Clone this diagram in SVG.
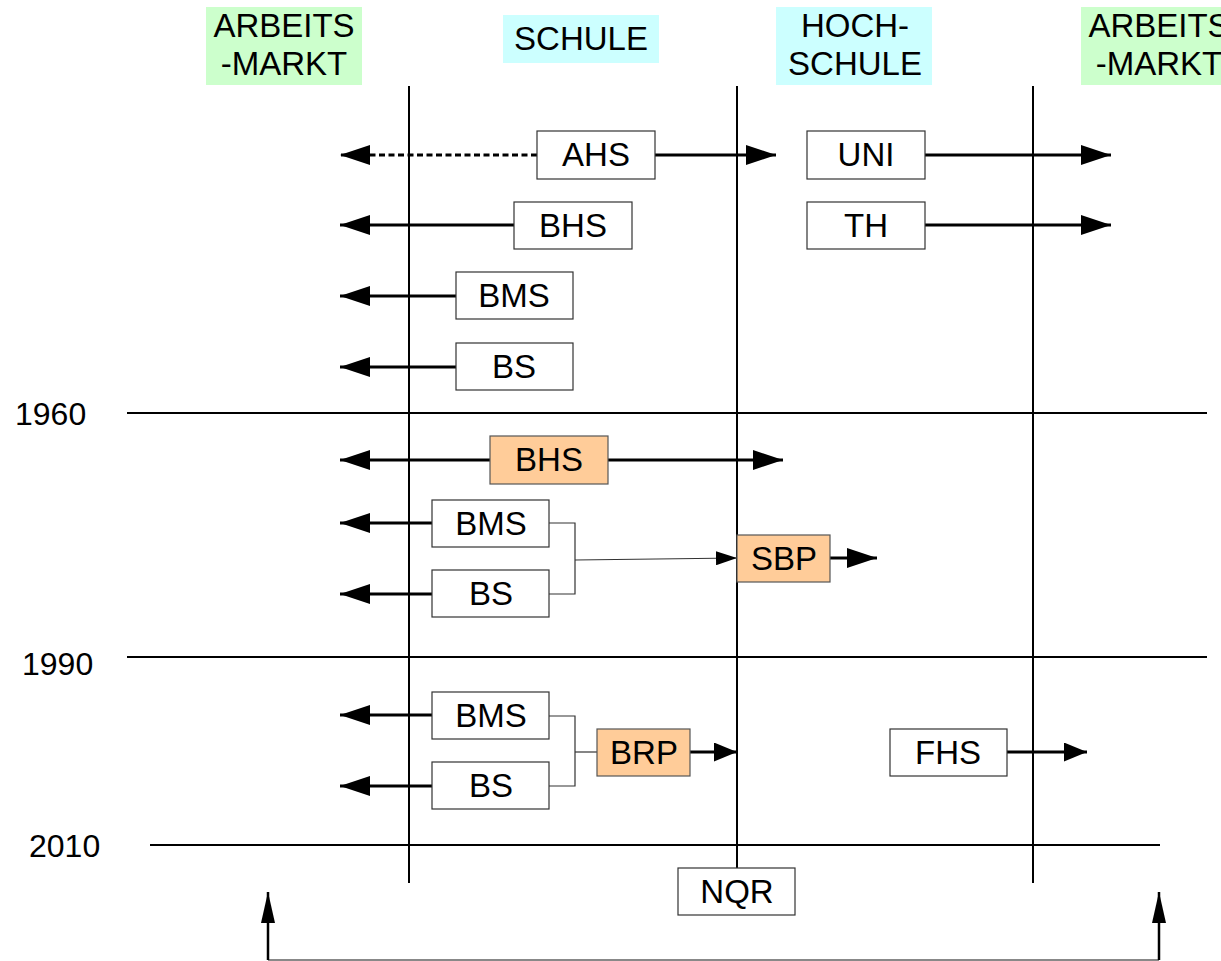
<svg xmlns="http://www.w3.org/2000/svg" width="1221" height="961" viewBox="0 0 1221 961">
<defs>
<style>
text{font-family:"Liberation Sans",Arial,sans-serif;font-size:33px;fill:#000;text-anchor:middle}
.yr{text-anchor:start;font-size:32px}
.box{fill:#fff;stroke:#333;stroke-width:1.2}
.org{fill:#ffcc99;stroke:#555;stroke-width:1.2}
.grn{fill:#ccffcc}
.cyn{fill:#ccffff}
.ax{stroke:#000;stroke-width:2;fill:none}
.arr{stroke:#000;stroke-width:3;fill:none}
.thin{stroke:#333;stroke-width:1.2;fill:none}
</style>
<marker id="ah" markerUnits="userSpaceOnUse" markerWidth="30" markerHeight="20" refX="30" refY="10" orient="auto"><path d="M0,0 L30,10 L0,20 z" fill="#000"/></marker>
<marker id="ahm" markerUnits="userSpaceOnUse" markerWidth="23" markerHeight="19" refX="23" refY="9.5" orient="auto"><path d="M0,0 L23,9.5 L0,19 z" fill="#000"/></marker>
<marker id="ahs" markerUnits="userSpaceOnUse" markerWidth="21" markerHeight="14" refX="21" refY="7" orient="auto"><path d="M0,0 L21,7 L0,14 z" fill="#000"/></marker>
<marker id="ahu" markerUnits="userSpaceOnUse" markerWidth="31" markerHeight="14" refX="31" refY="7" orient="auto"><path d="M0,0 L31,7 L0,14 z" fill="#000"/></marker>
</defs>

<g id="headers">
<g id="h-arbeitsmarkt-left"><rect class="grn" x="206" y="7" width="156" height="78"/><text x="284" y="37">ARBEITS</text><text x="284" y="75">-MARKT</text></g>
<g id="h-schule"><rect class="cyn" x="503" y="15" width="156" height="48"/><text x="581" y="50">SCHULE</text></g>
<g id="h-hochschule"><rect class="cyn" x="776" y="7" width="156" height="78"/><text x="855" y="37">HOCH-</text><text x="855" y="75">SCHULE</text></g>
<g id="h-arbeitsmarkt-right"><rect class="grn" x="1081" y="7" width="156" height="78"/><text x="1159" y="37">ARBEITS</text><text x="1159" y="75">-MARKT</text></g>
</g>

<g id="axes">
<line class="ax" x1="409" y1="86" x2="409" y2="883"/>
<line class="ax" x1="737" y1="86" x2="737" y2="868"/>
<line class="ax" x1="1033" y1="86" x2="1033" y2="883"/>
<line class="ax" x1="127" y1="413" x2="1207" y2="413" stroke-width="1.6"/>
<line class="ax" x1="127" y1="657" x2="1207" y2="657" stroke-width="1.6"/>
<line class="ax" x1="150" y1="845" x2="1160" y2="845" stroke-width="2.5"/>
<text class="yr" x="15" y="425">1960</text>
<text class="yr" x="22" y="675">1990</text>
<text class="yr" x="29" y="857">2010</text>
</g>

<g id="connectors">
<line class="arr" x1="537" y1="155" x2="340" y2="155" stroke-dasharray="6,3.5" marker-end="url(#ah)"/>
<line class="arr" x1="655" y1="155" x2="776" y2="155" marker-end="url(#ah)"/>
<line class="arr" x1="925" y1="155" x2="1111" y2="155" marker-end="url(#ah)"/>
<line class="arr" x1="925" y1="225" x2="1111" y2="225" marker-end="url(#ah)"/>
<line class="arr" x1="514" y1="225" x2="340" y2="225" marker-end="url(#ah)"/>
<line class="arr" x1="456" y1="296" x2="340" y2="296" marker-end="url(#ah)"/>
<line class="arr" x1="456" y1="367" x2="340" y2="367" marker-end="url(#ah)"/>
<line class="arr" x1="490" y1="460" x2="340" y2="460" marker-end="url(#ah)"/>
<line class="arr" x1="608" y1="460" x2="783" y2="460" marker-end="url(#ah)"/>
<line class="arr" x1="432" y1="523" x2="340" y2="523" marker-end="url(#ah)"/>
<line class="arr" x1="432" y1="594" x2="340" y2="594" marker-end="url(#ah)"/>
<polyline class="thin" points="549,523 575,523 575,594 549,594"/>
<line class="thin" x1="575" y1="560" x2="737" y2="558" marker-end="url(#ahs)"/>
<line class="arr" x1="830" y1="558" x2="877" y2="558" marker-end="url(#ah)"/>
<line class="arr" x1="432" y1="715" x2="340" y2="715" marker-end="url(#ah)"/>
<line class="arr" x1="432" y1="786" x2="340" y2="786" marker-end="url(#ah)"/>
<polyline class="thin" points="549,716 575,716 575,786 549,786"/>
<line class="thin" x1="575" y1="752" x2="597" y2="752"/>
<line class="arr" x1="690" y1="752" x2="737" y2="752" marker-end="url(#ahm)"/>
<line class="arr" x1="1007" y1="752" x2="1087" y2="752" marker-end="url(#ahm)"/>
<polyline points="268,960 1159,960" stroke="#888" stroke-width="2" fill="none"/>
<line stroke="#000" stroke-width="2.5" x1="268" y1="960" x2="268" y2="892" marker-end="url(#ahu)"/>
<line stroke="#000" stroke-width="2.5" x1="1159" y1="960" x2="1159" y2="892" marker-end="url(#ahu)"/>
</g>

<g id="n-ahs"><rect class="box" x="537" y="131" width="118" height="48"/><text x="596" y="166">AHS</text></g>
<g id="n-bhs1"><rect class="box" x="514" y="202" width="118" height="47"/><text x="573" y="237">BHS</text></g>
<g id="n-bms1"><rect class="box" x="456" y="272" width="117" height="47"/><text x="514" y="307">BMS</text></g>
<g id="n-bs1"><rect class="box" x="456" y="343" width="117" height="47"/><text x="514" y="378">BS</text></g>
<g id="n-uni"><rect class="box" x="807" y="131" width="118" height="48"/><text x="866" y="166">UNI</text></g>
<g id="n-th"><rect class="box" x="807" y="202" width="118" height="47"/><text x="866" y="237">TH</text></g>
<g id="n-bhs2"><rect class="org" x="490" y="436" width="118" height="48"/><text x="549" y="471">BHS</text></g>
<g id="n-bms2"><rect class="box" x="432" y="500" width="117" height="47"/><text x="491" y="535">BMS</text></g>
<g id="n-bs2"><rect class="box" x="432" y="570" width="117" height="47"/><text x="491" y="605">BS</text></g>
<g id="n-sbp"><rect class="org" x="737" y="535" width="93" height="47"/><text x="784" y="570">SBP</text></g>
<g id="n-bms3"><rect class="box" x="432" y="692" width="117" height="47"/><text x="491" y="727">BMS</text></g>
<g id="n-bs3"><rect class="box" x="432" y="762" width="117" height="47"/><text x="491" y="797">BS</text></g>
<g id="n-brp"><rect class="org" x="597" y="729" width="93" height="47"/><text x="644" y="764">BRP</text></g>
<g id="n-fhs"><rect class="box" x="890" y="729" width="117" height="47"/><text x="948" y="764">FHS</text></g>
<g id="n-nqr"><rect class="box" x="678" y="868" width="117" height="47"/><text x="737" y="903">NQR</text></g>
</svg>
